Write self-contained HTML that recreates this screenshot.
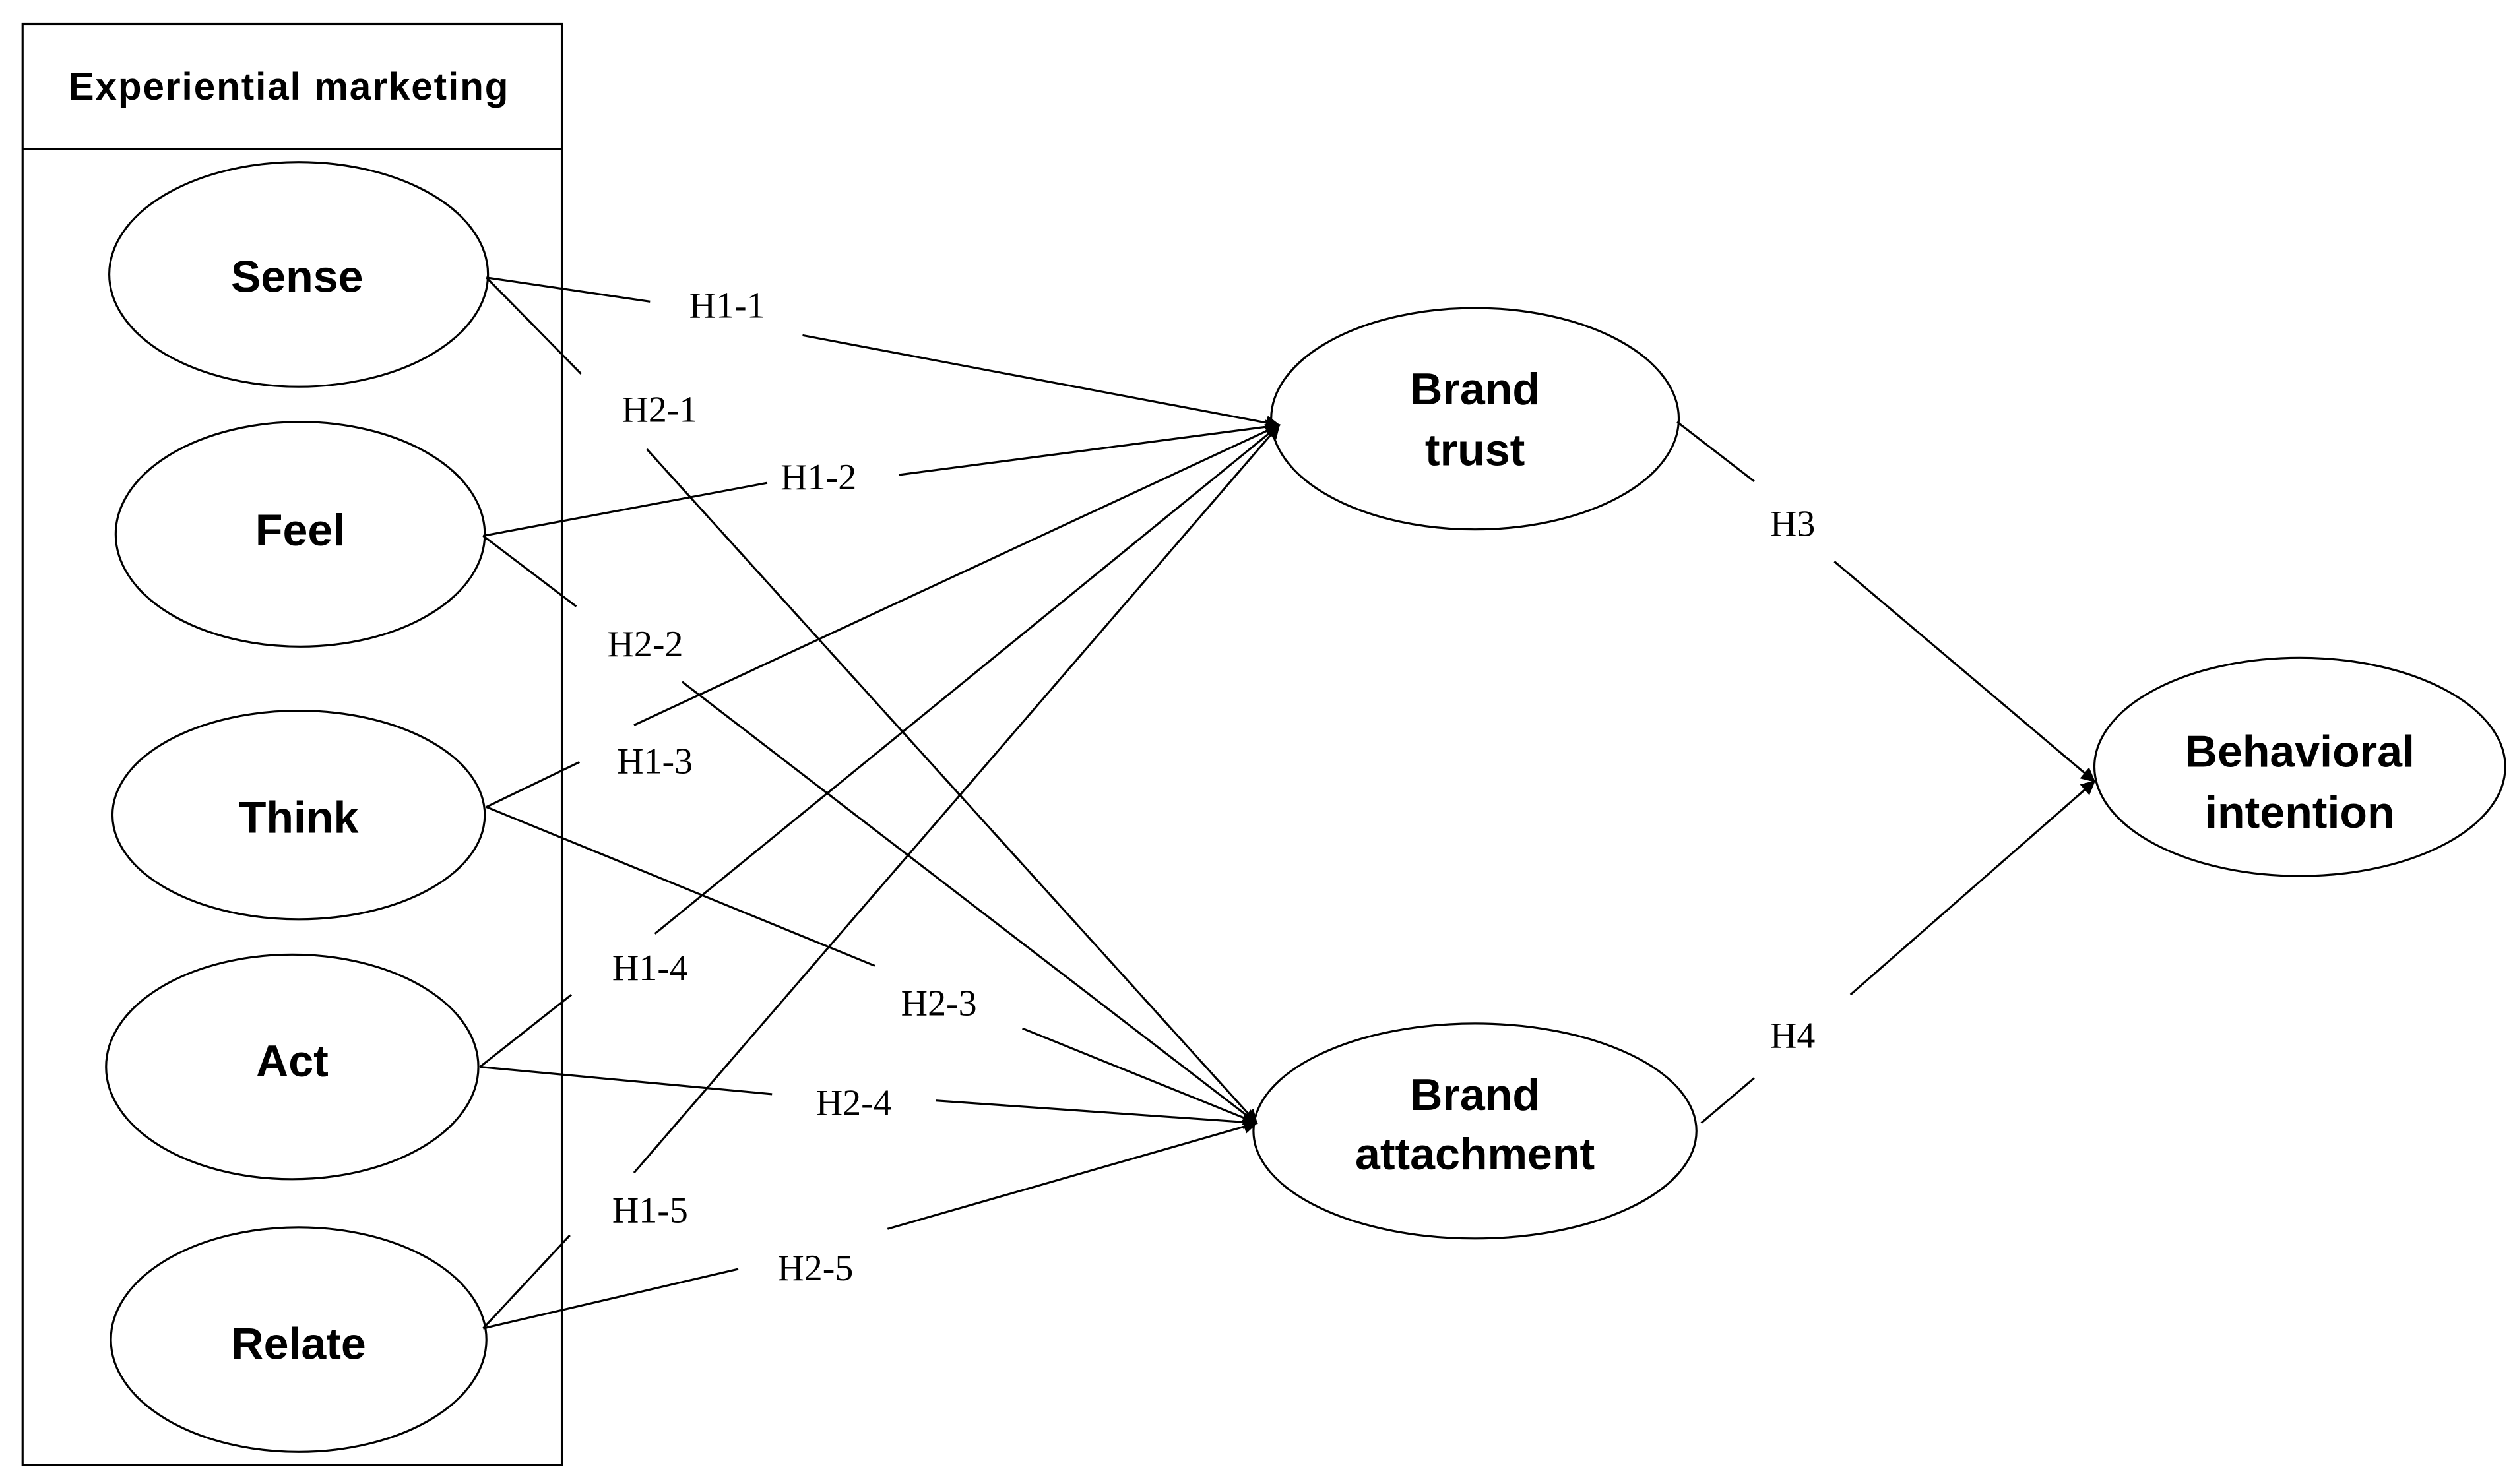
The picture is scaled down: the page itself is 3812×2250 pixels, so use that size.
<!DOCTYPE html>
<html><head><meta charset="utf-8"><style>html,body{margin:0;padding:0;background:#fff}svg{display:block}</style></head>
<body>
<svg width="3812" height="2250" viewBox="0 0 1567 925" xmlns="http://www.w3.org/2000/svg">
<defs><marker id="a" viewBox="0 0 10 10" refX="9" refY="5" markerWidth="9" markerHeight="9" markerUnits="userSpaceOnUse" orient="auto"><path d="M0,0 L10,5 L0,10 z" fill="#000"/></marker></defs>
<g fill="none" stroke="#000" stroke-width="1.3">
<rect x="14" y="15" width="336" height="898"/>
<line x1="14" y1="93" x2="350" y2="93"/>
<ellipse cx="186" cy="171" rx="118" ry="70"/>
<ellipse cx="187" cy="333" rx="115" ry="70"/>
<ellipse cx="186" cy="508" rx="116" ry="65"/>
<ellipse cx="182" cy="665" rx="116" ry="70"/>
<ellipse cx="186" cy="835" rx="117" ry="70"/>
<ellipse cx="919" cy="261" rx="127" ry="69"/>
<ellipse cx="919" cy="705" rx="138" ry="67"/>
<ellipse cx="1433" cy="478" rx="128" ry="68"/>
<path d="M303,173 L405,188"/><path d="M500,209 L797,265" marker-end="url(#a)"/>
<path d="M303,173 L362,233"/><path d="M403,280 L783,700" marker-end="url(#a)"/>
<path d="M301,334 L478,301"/><path d="M560,296 L797,265" marker-end="url(#a)"/>
<path d="M301,334 L359,378"/><path d="M425,425 L783,700" marker-end="url(#a)"/>
<path d="M303,503 L361,475"/><path d="M395,452 L797,265" marker-end="url(#a)"/>
<path d="M303,503 L545,602"/><path d="M637,641 L783,700" marker-end="url(#a)"/>
<path d="M299,665 L356,620"/><path d="M408,582 L797,265" marker-end="url(#a)"/>
<path d="M299,665 L481,682"/><path d="M583,686 L783,700" marker-end="url(#a)"/>
<path d="M301,828 L355,770"/><path d="M395,731 L797,265" marker-end="url(#a)"/>
<path d="M301,828 L460,791"/><path d="M553,766 L783,700" marker-end="url(#a)"/>
<path d="M1045,263 L1093,300"/><path d="M1143,350 L1305,487" marker-end="url(#a)"/>
<path d="M1060,700 L1093,672"/><path d="M1153,620 L1305,487" marker-end="url(#a)"/>
</g>
<g font-family="Liberation Sans, DejaVu Sans, sans-serif" font-weight="bold" text-anchor="middle" fill="#000">
<text x="180" y="62" font-size="24" letter-spacing="0.8">Experiential  marketing</text>
<text x="185" y="182" font-size="28">Sense</text>
<text x="187" y="340" font-size="28">Feel</text>
<text x="186" y="519" font-size="28">Think</text>
<text x="182" y="671" font-size="28">Act</text>
<text x="186" y="847" font-size="28">Relate</text>
<text x="919" y="252" font-size="28">Brand</text>
<text x="919" y="290" font-size="28">trust</text>
<text x="919" y="692" font-size="28">Brand</text>
<text x="919" y="729" font-size="28">attachment</text>
<text x="1433" y="478" font-size="28">Behavioral</text>
<text x="1433" y="516" font-size="28">intention</text>
</g>
<g font-family="Liberation Serif, serif" font-size="23" text-anchor="middle" fill="#000">
<text x="453" y="198">H1-1</text>
<text x="411" y="263">H2-1</text>
<text x="510" y="305">H1-2</text>
<text x="402" y="409">H2-2</text>
<text x="408" y="482">H1-3</text>
<text x="585" y="633">H2-3</text>
<text x="405" y="611">H1-4</text>
<text x="532" y="695">H2-4</text>
<text x="405" y="762">H1-5</text>
<text x="508" y="798">H2-5</text>
<text x="1117" y="334">H3</text>
<text x="1117" y="653">H4</text>
</g>
</svg>
</body></html>
